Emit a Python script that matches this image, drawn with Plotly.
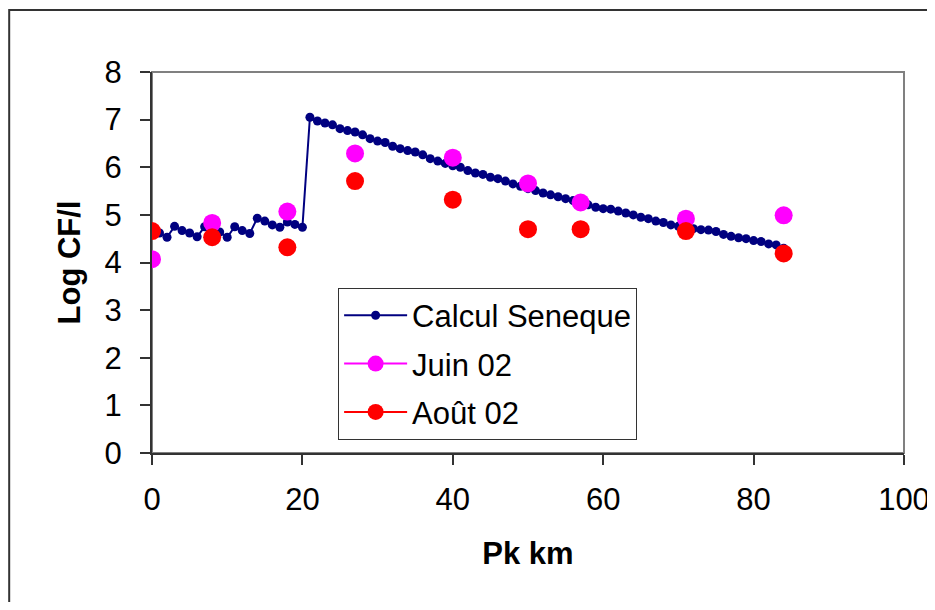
import plotly.graph_objects as go

# Calcul Seneque (model), Pk km vs Log CF/l
pk_calc = list(range(0, 85))
log_calc = [4.65, 4.62, 4.53, 4.76, 4.67, 4.62, 4.54, 4.75, 4.68, 4.64,
            4.53, 4.75, 4.67, 4.61, 4.93, 4.87, 4.79, 4.74, 4.85, 4.80,
            4.74, 7.05, 6.97, 6.93, 6.89, 6.81, 6.77, 6.74, 6.68, 6.60,
            6.55, 6.52, 6.44, 6.39, 6.35, 6.32, 6.26, 6.18, 6.13, 6.08,
            6.03, 6.00, 5.93, 5.88, 5.85, 5.79, 5.76, 5.71, 5.65, 5.60,
            5.55, 5.51, 5.46, 5.42, 5.38, 5.34, 5.30, 5.26, 5.21, 5.16,
            5.13, 5.12, 5.08, 5.04, 5.00, 4.95, 4.92, 4.87, 4.84, 4.79,
            4.76, 4.73, 4.71, 4.69, 4.68, 4.65, 4.59, 4.55, 4.52, 4.50,
            4.46, 4.44, 4.39, 4.37, 4.30]

# Measurements
pk_obs = [0, 8, 18, 27, 40, 50, 57, 71, 84]
log_juin = [4.07, 4.83, 5.07, 6.29, 6.20, 5.66, 5.26, 4.92, 4.99]
log_aout = [4.66, 4.53, 4.32, 5.71, 5.32, 4.70, 4.70, 4.66, 4.19]

x_ticks = [0, 20, 40, 60, 80, 100]
y_ticks = [0, 1, 2, 3, 4, 5, 6, 7, 8]


def split_points(xs, ys):
    """Insert gaps so each point is an isolated segment (line visible only in legend)."""
    ox, oy = [], []
    for a, b in zip(xs, ys):
        ox += [a, None]
        oy += [b, None]
    return ox, oy


FONT = "Arial, 'Liberation Sans', sans-serif"
FS = 31

fig = go.Figure()
fig.add_trace(go.Scatter(
    x=pk_calc, y=log_calc, mode="lines+markers", name="Calcul Seneque",
    line=dict(color="#000080", width=2),
    marker=dict(color="#000080", size=9),
    legendgroup="a",
))
jx, jy = split_points(pk_obs, log_juin)
fig.add_trace(go.Scatter(
    x=jx, y=jy, mode="lines+markers", name="Juin 02", connectgaps=False,
    line=dict(color="#FF00FF", width=2),
    marker=dict(color="#FF00FF", size=18),
    legendgroup="b",
))
ax, ay = split_points(pk_obs, log_aout)
fig.add_trace(go.Scatter(
    x=ax, y=ay, mode="lines+markers", name="Août 02", connectgaps=False,
    line=dict(color="#FF0000", width=2),
    marker=dict(color="#FF0000", size=18),
    legendgroup="c",
))

axis_common = dict(
    showgrid=False, zeroline=False, showline=True, linecolor="#333333",
    linewidth=2, ticks="outside", ticklen=10, tickwidth=2, tickcolor="#333333",
    tickfont=dict(family=FONT, size=FS, color="black"),
)

fig.update_xaxes(
    range=[0, 100], tickvals=x_ticks, ticktext=[str(v) for v in x_ticks],
    ticklabelstandoff=8,
    title=dict(text="<b>Pk km</b>", font=dict(family=FONT, size=FS, color="black"), standoff=26),
    **axis_common,
)
fig.update_yaxes(
    range=[0, 8], tickvals=y_ticks, ticktext=[str(v) for v in y_ticks],
    ticklabelstandoff=12,
    title=dict(text="<b>Log CF/l</b>", font=dict(family=FONT, size=FS, color="black"), standoff=15),
    **axis_common,
)

# the page body adds an 8px offset; the figure is sized so the plot lands in place
fig.update_layout(
    width=927, height=594,
    margin=dict(l=144, r=31, t=64, b=149, autoexpand=False),
    paper_bgcolor="white", plot_bgcolor="white",
    showlegend=True,
    legend=dict(
        x=0.2475, y=0.434, xanchor="left", yanchor="top",
        bgcolor="white", bordercolor="#333333", borderwidth=1,
        font=dict(family=FONT, size=FS, color="black"),
        itemwidth=63, tracegroupgap=5,
    ),
    shapes=[
        # plot area frame (grey top/right)
        dict(type="rect", xref="paper", yref="paper", x0=0, x1=1, y0=0, y1=1,
             line=dict(color="#808080", width=2), layer="below"),
        # outer chart frame
        dict(type="rect", xref="paper", yref="paper", x0=-0.1899, x1=1.06,
             y0=-0.45, y1=1.163, line=dict(color="#333333", width=2), layer="below"),
    ],
)

fig.write_html("out.html")
